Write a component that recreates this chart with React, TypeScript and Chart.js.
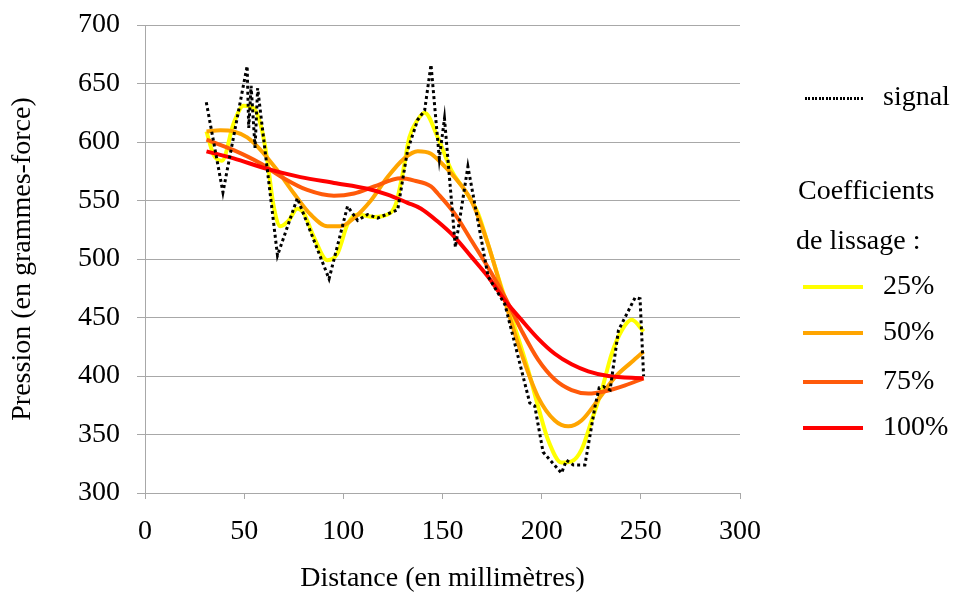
import React, { useEffect, useRef } from "react";
import { Chart, registerables } from "chart.js";

Chart.register(...registerables);

const FONT = "'Liberation Serif', 'Times New Roman', serif";

const signalX = [30.9, 39.3, 51.5, 52.3, 53.5, 55.5, 56.8, 66.8, 76.8, 92.8, 102.1, 107.2, 112.2, 117.3, 127.4, 132.4, 137.5, 141, 144.2, 148.4, 151, 156.5, 162.8, 173, 181.5, 194, 196.5, 200.7, 210, 212.5, 216, 221.8, 226.9, 229, 231.1, 234.5, 238.7, 247.1, 249.6, 251.4];
const signalY = [634, 557, 665, 612, 648, 595, 646, 503, 552, 483, 545, 533, 538, 535, 542, 593, 619, 627, 666, 586, 620, 510, 579, 485, 461, 377, 374.5, 335, 317, 328, 324, 324, 374, 390, 391, 388, 439, 467, 466, 400];

const s25X = [31, 34.6, 38.8, 44.7, 49.7, 54.8, 59, 61.6, 64.9, 68.3, 72.5, 76.8, 80.1, 85.1, 91.9, 97.1, 102.2, 107.2, 115.5, 122.3, 126.5, 129.9, 133.3, 137.5, 141, 147.6, 154.4, 161.1, 167.9, 172.9, 179.7, 186.4, 193.2, 198.2, 203.3, 210, 215.1, 220.1, 225.2, 230.3, 235.3, 240.4, 245.4, 251.4];
const s25Y = [609, 589, 584, 616, 631, 629, 610, 585, 545, 528, 533, 543, 539, 519, 499, 505, 530, 538, 536, 538, 547, 573, 604, 619, 625, 604, 576, 559, 539, 513, 476, 442, 405, 374, 345, 326, 327, 337, 362, 388, 419, 439, 448, 438];

const s50X = [31, 38, 44.7, 51.5, 57.9, 66.6, 75.1, 83.5, 91.9, 98.7, 105.4, 113.9, 122.3, 130.8, 137.5, 144.2, 147.6, 156, 164.5, 172.9, 181.3, 189.8, 198.2, 206.6, 213.4, 220.1, 228.6, 237, 245.4, 251.4];
const s50Y = [609, 610, 609, 604, 594, 576, 556, 538, 528, 528, 535, 550, 570, 586, 592, 590, 585, 570, 550, 513, 465, 419, 382, 362, 357, 362, 380, 399, 412, 421];

const s75X = [31, 44.7, 57.9, 70, 81.8, 95.3, 105.4, 115.5, 129, 135.8, 144.2, 147.6, 156, 164.5, 172.9, 181.3, 189.8, 198.2, 206.6, 215.1, 223.5, 232, 242.1, 251.4];
const s75Y = [602, 593, 582, 569, 559, 554, 556, 562, 569, 567, 562, 556, 539, 516, 493, 468, 439, 414, 397, 388, 385, 387, 392, 398];

const s100X = [31, 44.7, 61.6, 78.4, 95.3, 112.2, 122.3, 132.4, 139.2, 147.6, 156, 164.5, 172.9, 181.3, 189.8, 198.2, 206.6, 215.1, 223.5, 233.6, 251.4];
const s100Y = [592, 586, 577, 570, 565, 560, 555, 548, 543, 532, 519, 502, 485, 465, 448, 432, 419, 410, 404, 400, 398];

const xTicks = [0, 50, 100, 150, 200, 250, 300];
const yTicks = [300, 350, 400, 450, 500, 550, 600, 650, 700];

const seriesLabels = ["signal", "25%", "50%", "75%", "100%"];
const seriesColors = ["#000000", "#FFFF00", "#FFA500", "#FF5A0A", "#FF0000"];

const pts = (xs: number[], ys: number[]) => xs.map((x, i) => ({ x, y: ys[i] }));

export default function App() {
  const ref = useRef<HTMLCanvasElement | null>(null);

  useEffect(() => {
    if (!ref.current) return;
    const grid = "#a8a8a8";
    const smooth = (label: string, color: string, xs: number[], ys: number[]) => ({
      label,
      data: pts(xs, ys),
      borderColor: color,
      backgroundColor: color,
      borderWidth: 4,
      pointRadius: 0,
      cubicInterpolationMode: "monotone" as const,
      fill: false,
    });
    const chart = new Chart(ref.current, {
      type: "line",
      data: {
        datasets: [
          {
            label: seriesLabels[0],
            data: pts(signalX, signalY),
            borderColor: seriesColors[0],
            borderWidth: 3,
            borderDash: [3, 3],
            pointRadius: 0,
            tension: 0,
            fill: false,
          },
          smooth(seriesLabels[4], seriesColors[4], s100X, s100Y),
          smooth(seriesLabels[3], seriesColors[3], s75X, s75Y),
          smooth(seriesLabels[2], seriesColors[2], s50X, s50Y),
          smooth(seriesLabels[1], seriesColors[1], s25X, s25Y),
        ],
      },
      options: {
        responsive: false,
        animation: false,
        layout: { padding: { top: 25, right: 215, bottom: 0, left: 0 } },
        plugins: { legend: { display: false }, tooltip: { enabled: false } },
        scales: {
          x: {
            type: "linear",
            min: 0,
            max: 300,
            afterBuildTicks: (s: any) => {
              s.ticks = xTicks.map((v) => ({ value: v }));
            },
            afterFit: (s: any) => {
              s.height = 102;
              s.paddingLeft = 0;
              s.paddingRight = 0;
            },
            grid: { drawOnChartArea: false, drawTicks: true, tickLength: 6, color: grid, lineWidth: 1 },
            border: { display: true, color: grid, width: 1 },
            ticks: { color: "#000", font: { family: FONT, size: 28 }, padding: 16, maxRotation: 0 },
            title: {
              display: true,
              text: "Distance (en millimètres)",
              color: "#000",
              font: { family: FONT, size: 28 },
              padding: { top: 0, bottom: 0 },
            },
          },
          y: {
            type: "linear",
            min: 300,
            max: 700,
            afterBuildTicks: (s: any) => {
              s.ticks = yTicks.map((v) => ({ value: v }));
            },
            afterFit: (s: any) => {
              s.width = 145;
              s.paddingTop = 0;
              s.paddingBottom = 0;
            },
            grid: { drawOnChartArea: true, drawTicks: true, tickLength: 8, color: grid, lineWidth: 1 },
            border: { display: true, color: grid, width: 1 },
            ticks: { color: "#000", font: { family: FONT, size: 28 }, padding: 17 },
            title: {
              display: true,
              text: "Pression (en grammes-force)",
              color: "#000",
              font: { family: FONT, size: 28 },
              padding: { top: 6, bottom: 0 },
            },
          },
        },
      },
    });
    return () => chart.destroy();
  }, []);

  const textStyle: React.CSSProperties = {
    position: "absolute",
    fontFamily: FONT,
    fontSize: 28,
    lineHeight: "32px",
    color: "#000",
    whiteSpace: "nowrap",
  };
  const lineRows = [
    { i: 1, y: 287 },
    { i: 2, y: 333 },
    { i: 3, y: 382 },
    { i: 4, y: 428 },
  ];

  return (
    <div style={{ position: "absolute", left: 0, top: 0, width: 955, height: 595, background: "#fff" }}>
      <canvas ref={ref} width={955} height={595} style={{ display: "block" }} />
      <div
        style={{
          position: "absolute",
          left: 805,
          top: 97,
          width: 58,
          height: 3,
          background: "repeating-linear-gradient(to right, #000 0 2px, transparent 2px 3.5px)",
        }}
      />
      <div style={{ ...textStyle, left: 883, top: 98 - 18 }}>{seriesLabels[0]}</div>
      <div style={{ ...textStyle, left: 798, top: 192 - 18 }}>Coefficients</div>
      <div style={{ ...textStyle, left: 796, top: 242 - 18 }}>de lissage :</div>
      {lineRows.map((r) => (
        <React.Fragment key={r.i}>
          <div
            style={{
              position: "absolute",
              left: 803,
              top: r.y - 2,
              width: 60,
              height: 4,
              background: seriesColors[r.i],
            }}
          />
          <div style={{ ...textStyle, left: 883, top: r.y - 18 }}>{seriesLabels[r.i]}</div>
        </React.Fragment>
      ))}
    </div>
  );
}
